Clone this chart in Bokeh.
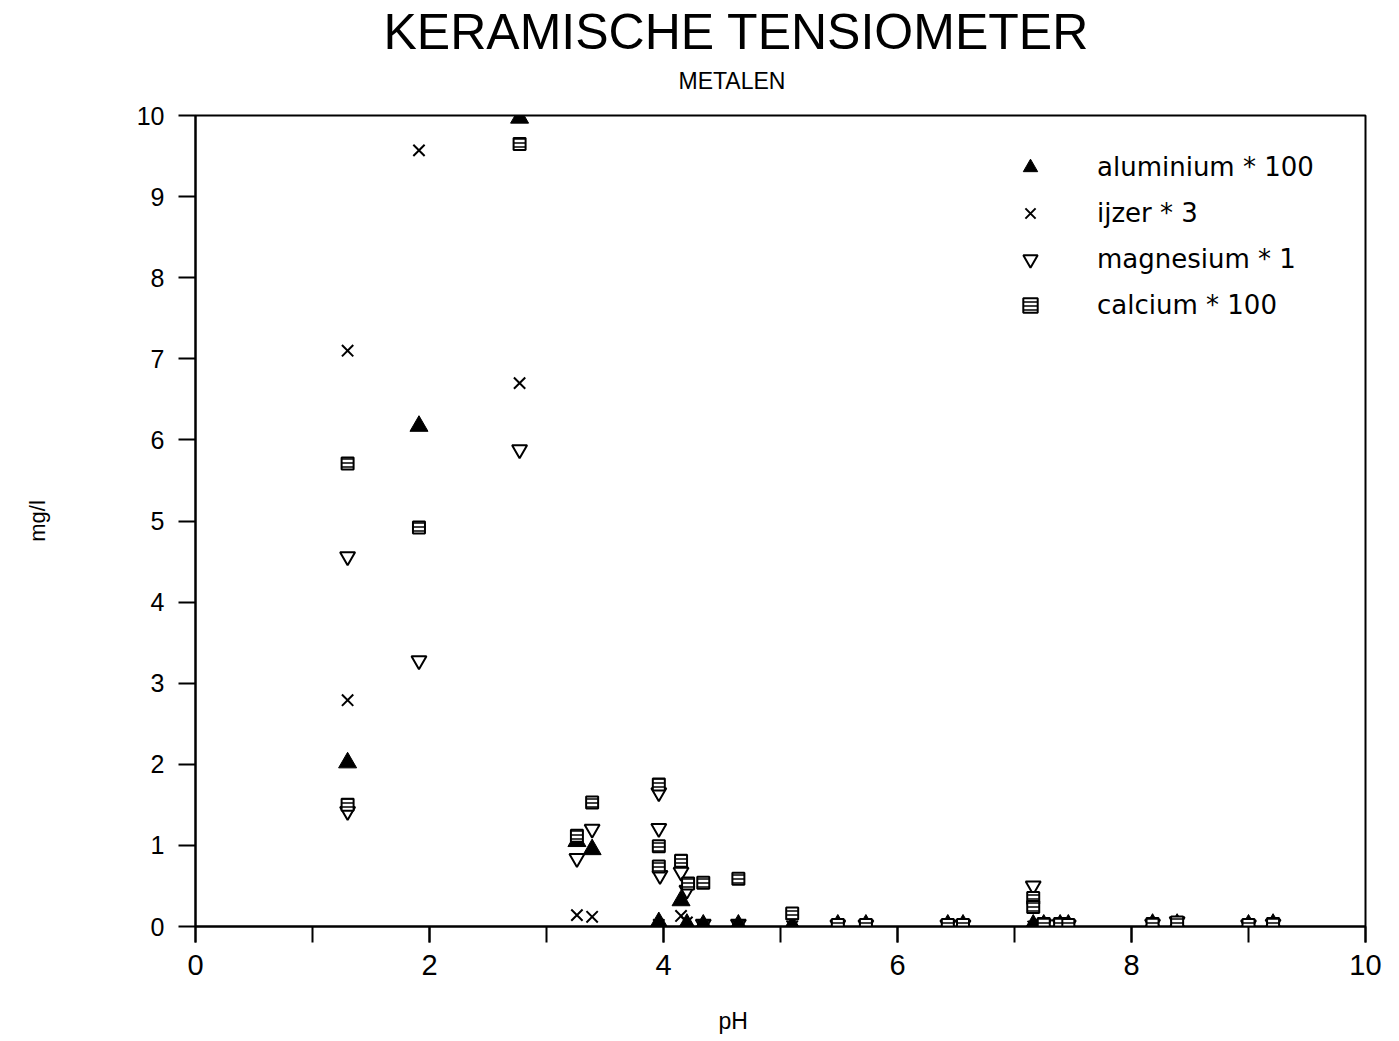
from bokeh.plotting import figure
from bokeh.models import (Title, Legend, LegendItem, FixedTicker, Range1d)
from bokeh.embed import file_html
from bokeh.resources import INLINE

# ---- data ----
al_ph = [1.30, 1.91, 2.77, 3.26, 3.39, 3.96, 4.15, 4.20, 4.34, 4.64, 5.10, 5.49, 5.73,
         6.43, 6.56, 7.16, 7.25, 7.39, 7.46, 8.18, 8.39, 9.00, 9.21]
al_val = [2.02, 6.17, 9.97, 1.05, 0.95, 0.05, 0.32, 0.03, 0.02, 0.02, 0.01, 0.02, 0.02,
          0.02, 0.02, 0.02, 0.02, 0.02, 0.02, 0.03, 0.03, 0.02, 0.03]

fe_ph = [1.30, 1.30, 1.91, 2.77, 3.26, 3.39, 3.96, 4.15, 4.20, 4.34, 4.64, 5.10, 5.49,
         5.73, 6.43, 6.56, 7.16, 7.25, 7.39, 7.46, 8.18, 8.39, 9.00, 9.21]
fe_val = [7.10, 2.79, 9.57, 6.70, 0.14, 0.12, 0.02, 0.13, 0.05, 0.01, 0.01, 0.0, 0.0,
          0.0, 0.0, 0.0, 0.0, 0.0, 0.0, 0.0, 0.02, 0.02, 0.0, 0.02]

mg_ph = [1.30, 1.30, 1.91, 2.77, 3.26, 3.39, 3.96, 3.96, 3.97, 4.15, 4.20, 4.34, 4.64,
         5.49, 5.73, 6.43, 6.56, 7.16, 7.25, 7.39, 7.46, 8.18, 8.39, 9.00, 9.21]
mg_val = [4.56, 1.42, 3.28, 5.88, 0.84, 1.20, 1.65, 1.21, 0.63, 0.67, 0.45, 0.03, 0.03,
          0.02, 0.02, 0.02, 0.02, 0.50, 0.03, 0.03, 0.02, 0.03, 0.06, 0.02, 0.03]

ca_ph = [1.30, 1.30, 1.91, 2.77, 3.26, 3.39, 3.96, 3.96, 3.96, 4.15, 4.21, 4.34, 4.64,
         5.10, 5.49, 5.73, 6.43, 6.56, 7.16, 7.16, 7.25, 7.39, 7.46, 8.18, 8.39, 9.00, 9.21]
ca_val = [5.71, 1.50, 4.92, 9.65, 1.12, 1.53, 1.75, 0.99, 0.74, 0.81, 0.53, 0.54, 0.59,
          0.16, 0.02, 0.02, 0.02, 0.02, 0.35, 0.24, 0.03, 0.03, 0.02, 0.03, 0.05, 0.02, 0.03]

labels = ["aluminium * 100", "ijzer * 3", "magnesium * 1", "calcium * 100"]
x_ticks = [0, 2, 4, 6, 8, 10]
y_ticks = list(range(0, 11))

FONT = "Liberation Sans"

p = figure(width=1399, height=1041, output_backend="svg", toolbar_location=None,
           x_range=Range1d(0, 10), y_range=Range1d(0, 10),
           min_border_left=195, min_border_right=34, min_border_top=115,
           min_border_bottom=115, background_fill_color="white",
           border_fill_color="white")
p.title.visible = False
p.grid.visible = False
p.outline_line_color = "black"
p.outline_line_width = 2

# titles
sub = Title(text="METALEN", text_font=FONT, text_font_size="23px",
            text_font_style="normal", text_color="black", align="left",
            vertical_align="top", offset=483, standoff=39)
main = Title(text="KERAMISCHE TENSIOMETER", text_font=FONT, text_font_size="50px",
             text_font_style="normal", text_color="black", align="left",
             offset=188, standoff=-22)
p.add_layout(sub, "above")
p.add_layout(main, "above")

# axes
for ax in (p.xaxis[0], p.yaxis[0]):
    ax.axis_line_color = "black"
    ax.axis_line_width = 2
    ax.major_tick_line_color = "black"
    ax.major_tick_line_width = 2
    ax.minor_tick_line_color = "black"
    ax.minor_tick_line_width = 2
    ax.major_tick_in = 0
    ax.minor_tick_in = 0
    ax.major_label_text_font = FONT
    ax.major_label_text_color = "black"

p.xaxis.ticker = FixedTicker(ticks=x_ticks, minor_ticks=list(range(0, 11)))
p.xaxis.major_tick_out = 16
p.xaxis.minor_tick_out = 16
p.xaxis.major_label_standoff = 12
p.xaxis.major_label_text_font_size = "29px"

p.yaxis.ticker = FixedTicker(ticks=y_ticks, minor_ticks=[])
p.yaxis.major_tick_out = 17
p.yaxis.minor_tick_out = 0
p.yaxis.major_label_standoff = 14
p.yaxis.major_label_text_font_size = "25px"
p.yaxis.axis_label = "mg/l"
p.yaxis.axis_label_standoff = 84
p.yaxis.axis_label_text_font = FONT
p.yaxis.axis_label_text_font_size = "22px"
p.yaxis.axis_label_text_font_style = "normal"
p.yaxis.axis_label_text_color = "black"

xlab = Title(text="\npH", text_font=FONT, text_font_size="23px", text_font_style="normal",
             text_color="black", align="left", vertical_align="bottom",
             offset=523, standoff=4)
p.add_layout(xlab, "below")

# series
r_al = p.scatter(al_ph, al_val, marker="triangle", size=18, fill_color="black",
                 line_color="black", line_width=1)
r_fe = p.scatter(fe_ph, fe_val, marker="x", size=16, line_color="black", line_width=2)
r_mg = p.scatter(mg_ph, mg_val, marker="inverted_triangle", size=15, fill_color="white",
                 fill_alpha=0, line_color="black", line_width=2)
r_ca = p.scatter(ca_ph, ca_val, marker="square", size=12, fill_color="white",
                 line_color="black", line_width=2, hatch_pattern="horizontal_line",
                 hatch_color="black", hatch_scale=4, hatch_weight=1.5)

legend = Legend(items=[LegendItem(label=labels[0], renderers=[r_al]),
                       LegendItem(label=labels[1], renderers=[r_fe]),
                       LegendItem(label=labels[2], renderers=[r_mg]),
                       LegendItem(label=labels[3], renderers=[r_ca])],
                location=(817, 603), orientation="vertical",
                label_text_font="DejaVu Sans", label_text_font_size="26px",
                label_text_color="black", glyph_width=36, glyph_height=36,
                label_height=36, label_standoff=49, spacing=10, padding=0, margin=0,
                border_line_color=None, background_fill_alpha=0)
p.add_layout(legend, "center")

open("out.html", "w").write(file_html(p, INLINE))
